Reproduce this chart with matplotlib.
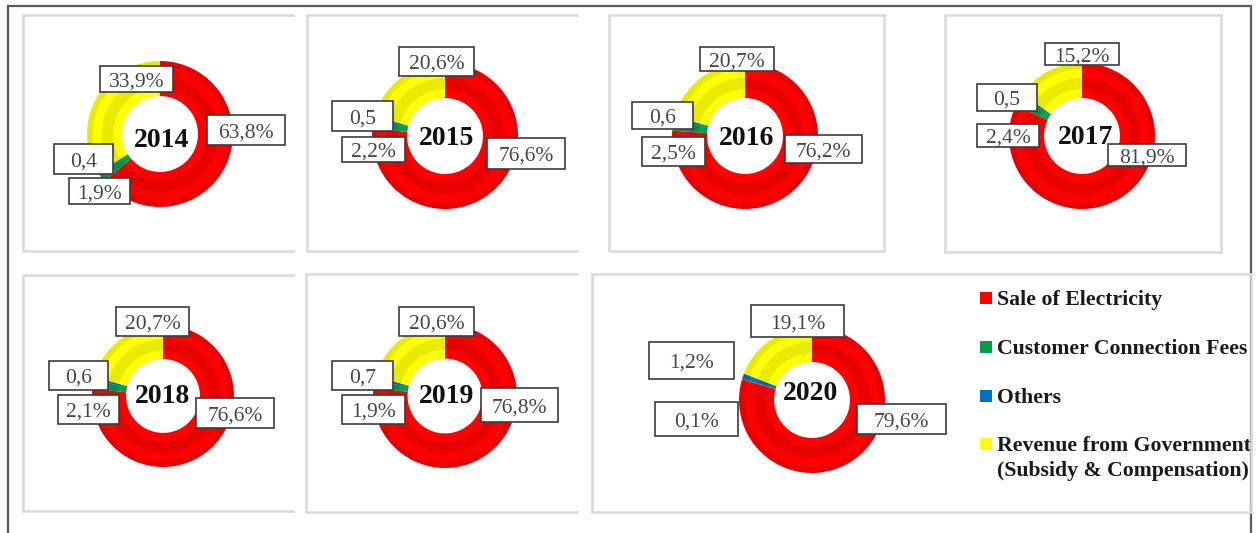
import matplotlib
matplotlib.use("Agg")
import matplotlib.pyplot as plt
from matplotlib.patches import Rectangle
from matplotlib.transforms import Bbox, TransformedBbox

# ---------------------------------------------------------------------------
# Data
# ---------------------------------------------------------------------------
categories = ["Sale of Electricity", "Customer Connection Fees", "Others",
              "Revenue from Government\n(Subsidy & Compensation)"]
years = ["2014", "2015", "2016", "2017", "2018", "2019", "2020"]
sale = [63.8, 76.6, 76.2, 81.9, 76.6, 76.8, 79.6]
connection = [1.9, 2.2, 2.5, 2.4, 2.1, 1.9, 0.1]
others = [0.4, 0.5, 0.6, 0.5, 0.6, 0.7, 1.2]
government = [33.9, 20.6, 20.7, 15.2, 20.7, 20.6, 19.1]
others_pct = [False, False, False, False, False, False, True]

colors = ["#ff0000", "#00a04a", "#0070c0", "#ffff00"]
shades = ["#e70000", "#008f42", "#0062b0", "#eaea00"]

# ---------------------------------------------------------------------------
# Layout (pixels, y measured from the top)
# ---------------------------------------------------------------------------
W, H = 1260, 533
centers = [(160, 134), (445, 136), (745, 136), (1082, 136),
           (163, 396), (445, 396), (812, 400)]
radii = [73, 73, 73, 73, 71, 72, 73]
year_pos = [(162, 147), (447, 145), (747, 145), (1086, 144),
            (163, 403), (447, 403), (811, 400)]
# label boxes in order: sale, connection, others, government
boxes = [
    [(207, 115, 285, 145), (69, 178, 130, 204), (54, 144, 113, 174), (100, 66, 173, 92)],
    [(487, 138, 565, 169), (342, 137, 405, 162), (332, 101, 393, 131), (399, 47, 474, 76)],
    [(785, 135, 862, 163), (642, 137, 705, 166), (632, 102, 693, 129), (700, 47, 774, 71)],
    [(1108, 144, 1186, 166), (977, 124, 1039, 147), (977, 84, 1037, 111), (1045, 43, 1119, 65)],
    [(196, 398, 274, 428), (58, 395, 119, 424), (49, 361, 108, 390), (116, 307, 189, 336)],
    [(481, 388, 558, 422), (342, 395, 405, 424), (332, 361, 393, 390), (399, 307, 474, 336)],
    [(857, 404, 946, 434), (655, 402, 738, 436), (649, 342, 734, 379), (751, 305, 844, 337)],
]
# panel frames: x0, y0, x1, y1, draw right edge
panels = [(23, 15, 293, 251, False), (307, 15, 577, 251, False),
          (609, 15, 884, 251, True), (945, 15, 1221, 252, True),
          (23, 275, 293, 511, False), (306, 274, 577, 512, False),
          (592, 274, 1251, 512, True)]
legend_y = [298, 347, 396, 444]
legend_line = 25

SERIF = ["Liberation Serif", "DejaVu Serif"]


def fy(y):
    return H - y


fig = plt.figure(figsize=(W / 100, H / 100), dpi=100)
ax = fig.add_axes([0, 0, 1, 1])

# outer frame
ax.plot([8, 8, 1251, 1251], [fy(H), fy(6), fy(6), fy(H)], color="#595959", lw=1.6,
        solid_joinstyle="miter")

# panel frames
for x0, y0, x1, y1, closed in panels:
    xs = [x1, x0, x0, x1] + ([x1] if closed else [])
    ys = [y0, y0, y1, y1] + ([y0] if closed else [])
    ax.plot(xs, [fy(v) for v in ys], color="#d9d9d9", lw=1.8, solid_joinstyle="miter")

# donuts with a soft bevel made of concentric bands
bands = [(1.00, 0.17, shades), (0.83, 0.25, colors), (0.58, 0.33, shades), (0.25, 0.25, colors)]
for i, yr in enumerate(years):
    vals = [sale[i], connection[i], others[i], government[i]]
    cx, cy = centers[i]
    R = radii[i]
    r = R * 0.52
    w = R - r
    for top, frac, cols in bands:
        extra = 0.6 if top > frac else 0.0
        ax.pie(vals, radius=r + w * top, center=(cx, fy(cy)), startangle=90,
               counterclock=False, colors=cols, frame=True,
               wedgeprops=dict(width=w * frac + extra, linewidth=0))

    yx, yb = year_pos[i]
    ax.text(yx, fy(yb), yr, ha="center", va="baseline", fontsize=20,
            fontweight="bold", family=SERIF, color="#111111", zorder=7)

    labels = []
    for v, pct in zip(vals, [True, True, others_pct[i], True]):
        labels.append(f"{v:.1f}".replace(".", ",") + ("%" if pct else ""))
    for (x0, y0, x1, y1), lab in zip(boxes[i], labels):
        ax.add_patch(Rectangle((x0, fy(y1)), x1 - x0, y1 - y0, facecolor="white",
                               edgecolor="#3c3c3c", lw=1.2, zorder=5))
        ax.text((x0 + x1) / 2, fy((y0 + y1) / 2 + 7.5), lab, ha="center", va="baseline",
                fontsize=15.5, family=SERIF, color="#404650", zorder=6)

# legend
clip = TransformedBbox(Bbox([[0, 0], [1250, H]]), ax.transData)
for cat, col, ly in zip(categories, colors, legend_y):
    ax.add_patch(Rectangle((980, fy(ly + 6)), 12, 12, facecolor=col, lw=0, zorder=5))
    for k, line in enumerate(cat.split("\n")):
        t = ax.text(997, fy(ly + 7 + k * legend_line), line, ha="left", va="baseline",
                    fontsize=15.7, fontweight="bold", family=SERIF, color="#1a1a1a",
                    zorder=6)
        t.set_clip_box(clip)
        t.set_clip_on(True)

ax.set_xlim(0, W)
ax.set_ylim(0, H)
ax.set_aspect("auto")
ax.axis("off")

fig.savefig("out.png", dpi=100)
